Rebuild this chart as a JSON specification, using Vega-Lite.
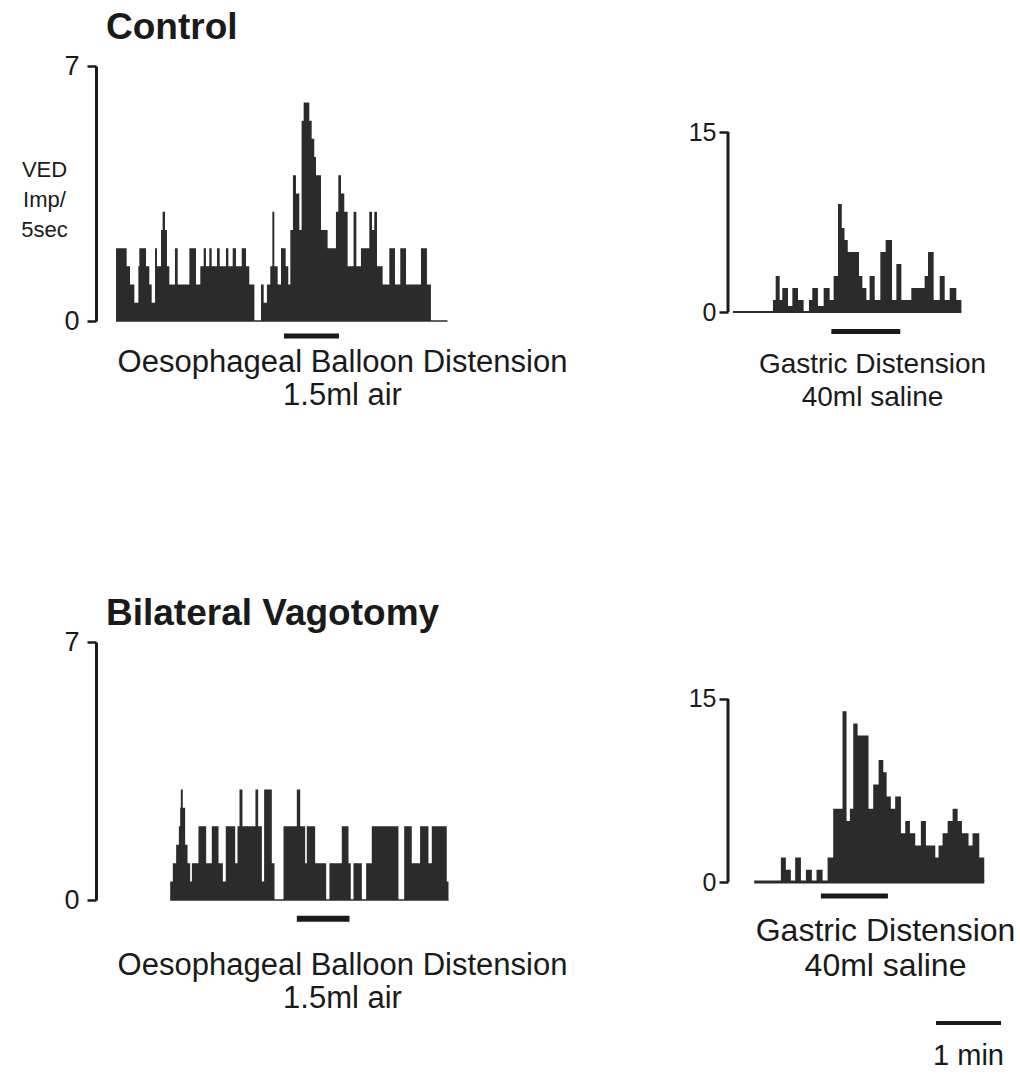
{
  "$schema": "https://vega.github.io/schema/vega-lite/v6.json",
  "padding": {"left": 20, "top": 9, "right": 0, "bottom": 0},
  "config": {
    "font": "Liberation Sans",
    "view": {"stroke": null},
    "axis": {"grid": false, "labelFont": "Liberation Sans", "titleFont": "Liberation Sans", "labelColor": "#1a1a1a", "titleColor": "#1a1a1a", "domainColor": "#1a1a1a", "tickColor": "#1a1a1a"},
    "title": {"font": "Liberation Sans", "color": "#1a1a1a"}
  },
  "datasets": {
    "hist": [
      {"panel":"p1","t":18.5,"v":2},{"panel":"p1","t":28.3,"v":1.5},{"panel":"p1","t":31.4,"v":1},{"panel":"p1","t":35.4,"v":0.5},{"panel":"p1","t":39.1,"v":1.5},{"panel":"p1","t":40.0,"v":2},{"panel":"p1","t":46.2,"v":1.5},{"panel":"p1","t":49.2,"v":1},{"panel":"p1","t":51.4,"v":0.5},{"panel":"p1","t":54.5,"v":2},{"panel":"p1","t":56.3,"v":1.5},{"panel":"p1","t":60.0,"v":2.5},{"panel":"p1","t":61.5,"v":3},{"panel":"p1","t":63.7,"v":2.5},{"panel":"p1","t":65.5,"v":1.5},{"panel":"p1","t":67.7,"v":1},{"panel":"p1","t":72.9,"v":2},{"panel":"p1","t":75.4,"v":1},{"panel":"p1","t":86.2,"v":2},{"panel":"p1","t":92.3,"v":1},{"panel":"p1","t":96.3,"v":1.5},{"panel":"p1","t":99.4,"v":2},{"panel":"p1","t":101.5,"v":1.5},{"panel":"p1","t":104.6,"v":2},{"panel":"p1","t":106.8,"v":1.5},{"panel":"p1","t":111.7,"v":2},{"panel":"p1","t":114.2,"v":1.5},{"panel":"p1","t":120.0,"v":2},{"panel":"p1","t":122.2,"v":1.5},{"panel":"p1","t":126.2,"v":2},{"panel":"p1","t":129.2,"v":1.5},{"panel":"p1","t":134.5,"v":2},{"panel":"p1","t":138.5,"v":1.5},{"panel":"p1","t":141.5,"v":1},{"panel":"p1","t":146.2,"v":0},{"panel":"p1","t":152.3,"v":1},{"panel":"p1","t":154.8,"v":0.5},{"panel":"p1","t":157.8,"v":1},{"panel":"p1","t":160.9,"v":1.5},{"panel":"p1","t":162.8,"v":3},{"panel":"p1","t":164.6,"v":1.5},{"panel":"p1","t":167.7,"v":1},{"panel":"p1","t":170.8,"v":2},{"panel":"p1","t":175.1,"v":1.5},{"panel":"p1","t":177.5,"v":1},{"panel":"p1","t":179.4,"v":2.5},{"panel":"p1","t":181.8,"v":4},{"panel":"p1","t":184.6,"v":3.5},{"panel":"p1","t":187.7,"v":2.5},{"panel":"p1","t":189.8,"v":5.5},{"panel":"p1","t":191.7,"v":6},{"panel":"p1","t":196.9,"v":5.5},{"panel":"p1","t":199.1,"v":5},{"panel":"p1","t":201.5,"v":4.5},{"panel":"p1","t":203.1,"v":4},{"panel":"p1","t":207.7,"v":2.5},{"panel":"p1","t":213.8,"v":2},{"panel":"p1","t":221.5,"v":3},{"panel":"p1","t":223.7,"v":4},{"panel":"p1","t":226.2,"v":3.5},{"panel":"p1","t":229.2,"v":3},{"panel":"p1","t":232.3,"v":1.5},{"panel":"p1","t":237.8,"v":3},{"panel":"p1","t":240.3,"v":1.5},{"panel":"p1","t":244.6,"v":2},{"panel":"p1","t":252.3,"v":3},{"panel":"p1","t":254.8,"v":2.5},{"panel":"p1","t":256.9,"v":3},{"panel":"p1","t":259.4,"v":1.5},{"panel":"p1","t":264.6,"v":1},{"panel":"p1","t":270.8,"v":2},{"panel":"p1","t":276.0,"v":1},{"panel":"p1","t":280.9,"v":2},{"panel":"p1","t":286.2,"v":1},{"panel":"p1","t":300.0,"v":2},{"panel":"p1","t":305.5,"v":1},{"panel":"p1","t":309.2,"v":0},
      {"panel":"p2","t":4.6,"v":0},{"panel":"p2","t":41.5,"v":1},{"panel":"p2","t":44.0,"v":3},{"panel":"p2","t":47.7,"v":1},{"panel":"p2","t":50.1,"v":2},{"panel":"p2","t":55.4,"v":0.5},{"panel":"p2","t":59.4,"v":2},{"panel":"p2","t":64.6,"v":1},{"panel":"p2","t":69.8,"v":0},{"panel":"p2","t":74.7,"v":1},{"panel":"p2","t":77.8,"v":2},{"panel":"p2","t":83.0,"v":0.5},{"panel":"p2","t":88.3,"v":2},{"panel":"p2","t":93.8,"v":1},{"panel":"p2","t":97.5,"v":3},{"panel":"p2","t":101.5,"v":9},{"panel":"p2","t":105.0,"v":7},{"panel":"p2","t":107.5,"v":6},{"panel":"p2","t":110.5,"v":5},{"panel":"p2","t":120.9,"v":3},{"panel":"p2","t":124.0,"v":2},{"panel":"p2","t":127.7,"v":1},{"panel":"p2","t":130.7,"v":3},{"panel":"p2","t":135.4,"v":1},{"panel":"p2","t":140.6,"v":5},{"panel":"p2","t":145.5,"v":6},{"panel":"p2","t":151.4,"v":1},{"panel":"p2","t":155.4,"v":4},{"panel":"p2","t":160.0,"v":1},{"panel":"p2","t":169.2,"v":2},{"panel":"p2","t":181.5,"v":3},{"panel":"p2","t":184.6,"v":5},{"panel":"p2","t":189.8,"v":1},{"panel":"p2","t":195.4,"v":3},{"panel":"p2","t":200.0,"v":1},{"panel":"p2","t":204.6,"v":2},{"panel":"p2","t":210.7,"v":1},{"panel":"p2","t":215.4,"v":0},
      {"panel":"p3","t":68.5,"v":0.5},{"panel":"p3","t":70.9,"v":1},{"panel":"p3","t":74.0,"v":1.5},{"panel":"p3","t":76.5,"v":2},{"panel":"p3","t":77.7,"v":2.5},{"panel":"p3","t":78.3,"v":3},{"panel":"p3","t":80.1,"v":2.5},{"panel":"p3","t":82.3,"v":1.5},{"panel":"p3","t":84.5,"v":1},{"panel":"p3","t":86.9,"v":0.5},{"panel":"p3","t":88.5,"v":1},{"panel":"p3","t":94.6,"v":2},{"panel":"p3","t":101.7,"v":1},{"panel":"p3","t":106.9,"v":2},{"panel":"p3","t":113.1,"v":1},{"panel":"p3","t":117.1,"v":0.5},{"panel":"p3","t":119.8,"v":2},{"panel":"p3","t":128.5,"v":1},{"panel":"p3","t":130.6,"v":2},{"panel":"p3","t":132.5,"v":3},{"panel":"p3","t":135.2,"v":2},{"panel":"p3","t":147.2,"v":3},{"panel":"p3","t":149.7,"v":2},{"panel":"p3","t":153.1,"v":0.5},{"panel":"p3","t":155.2,"v":3},{"panel":"p3","t":162.3,"v":1},{"panel":"p3","t":164.8,"v":0},{"panel":"p3","t":173.1,"v":2},{"panel":"p3","t":185.4,"v":3},{"panel":"p3","t":188.5,"v":2},{"panel":"p3","t":193.1,"v":1},{"panel":"p3","t":194.6,"v":2},{"panel":"p3","t":202.3,"v":1},{"panel":"p3","t":212.5,"v":0},{"panel":"p3","t":215.5,"v":1},{"panel":"p3","t":226.9,"v":2},{"panel":"p3","t":233.1,"v":1},{"panel":"p3","t":235.2,"v":0},{"panel":"p3","t":237.7,"v":1},{"panel":"p3","t":245.4,"v":0},{"panel":"p3","t":249.4,"v":1},{"panel":"p3","t":254.6,"v":2},{"panel":"p3","t":279.2,"v":0},{"panel":"p3","t":284.5,"v":2},{"panel":"p3","t":291.5,"v":1},{"panel":"p3","t":299.2,"v":2},{"panel":"p3","t":306.9,"v":1},{"panel":"p3","t":310.0,"v":2},{"panel":"p3","t":323.8,"v":0.5},{"panel":"p3","t":325.4,"v":0},
      {"panel":"p4","t":24.2,"v":0},{"panel":"p4","t":48.8,"v":2},{"panel":"p4","t":53.4,"v":1},{"panel":"p4","t":58.0,"v":0},{"panel":"p4","t":62.0,"v":2},{"panel":"p4","t":67.3,"v":0},{"panel":"p4","t":71.9,"v":1},{"panel":"p4","t":77.4,"v":0},{"panel":"p4","t":81.7,"v":1},{"panel":"p4","t":87.3,"v":0},{"panel":"p4","t":91.9,"v":2},{"panel":"p4","t":97.1,"v":6},{"panel":"p4","t":105.7,"v":14},{"panel":"p4","t":109.4,"v":5},{"panel":"p4","t":112.5,"v":6},{"panel":"p4","t":115.6,"v":13},{"panel":"p4","t":119.6,"v":12},{"panel":"p4","t":129.7,"v":6},{"panel":"p4","t":134.0,"v":8},{"panel":"p4","t":139.0,"v":10},{"panel":"p4","t":143.3,"v":9},{"panel":"p4","t":146.4,"v":7},{"panel":"p4","t":150.3,"v":6},{"panel":"p4","t":154.3,"v":7},{"panel":"p4","t":159.6,"v":4},{"panel":"p4","t":163.6,"v":5},{"panel":"p4","t":167.9,"v":4},{"panel":"p4","t":172.8,"v":3},{"panel":"p4","t":178.0,"v":5},{"panel":"p4","t":182.7,"v":3},{"panel":"p4","t":191.3,"v":2},{"panel":"p4","t":194.3,"v":3},{"panel":"p4","t":198.0,"v":4},{"panel":"p4","t":202.7,"v":5},{"panel":"p4","t":207.3,"v":6},{"panel":"p4","t":211.9,"v":5},{"panel":"p4","t":215.9,"v":4},{"panel":"p4","t":222.0,"v":3},{"panel":"p4","t":225.7,"v":4},{"panel":"p4","t":231.9,"v":2},{"panel":"p4","t":236.5,"v":0}
    ],
    "spans": [
      {"panel":"p1","start":18.5,"end":324.5},
      {"panel":"p2","start":4.6,"end":215.4},
      {"panel":"p3","start":68.5,"end":325.4},
      {"panel":"p4","start":24.2,"end":236.5}
    ],
    "stim": [
      {"panel":"p1","start":173.5,"end":224.3},
      {"panel":"p2","start":95.4,"end":159.0},
      {"panel":"p3","start":185.4,"end":234.0},
      {"panel":"p4","start":85.7,"end":147.6}
    ],
    "scalebar": [
      {"start":192,"end":252,"label":"1 min"}
    ]
  },
  "spacing": 184,
  "vconcat": [
    {
      "spacing": 100,
      "hconcat": [
        {
          "width": 492, "height": 255,
          "title": {"text": "Control", "anchor": "start", "frame": "group", "dx": 10, "fontSize": 37, "fontWeight": "bold", "offset": -24, "baseline": "alphabetic"},
          "layer": [
            {
              "data": {"name": "hist"}, "transform": [{"filter": "datum.panel === 'p1'"}],
              "mark": {"type": "area", "interpolate": "step-after", "color": "#2b2b2b"},
              "encoding": {
                "x": {"field": "t", "type": "quantitative", "scale": {"domain": [0, 454.2], "nice": false, "zero": false},
                      "axis": {"domain": false, "ticks": false, "labels": false, "title": ["Oesophageal Balloon Distension", "1.5ml air"], "titleFontSize": 31, "titleFontWeight": "normal", "titleLineHeight": 33, "titlePadding": 26}},
                "y": {"field": "v", "type": "quantitative", "scale": {"domain": [0, 7], "nice": false},
                      "axis": {"values": [0, 7], "tickSize": 9, "tickWidth": 2.5, "domainWidth": 3, "labelFontSize": 27, "labelPadding": 8, "title": ["VED", "Imp/", "5sec"], "titleAngle": 0, "titleFontSize": 22, "titleFontWeight": "normal", "titleLineHeight": 30, "titleX": -52, "titleY": 103, "titleAlign": "center", "titleBaseline": "middle"}}
              }
            },
            {
              "data": {"name": "spans"}, "transform": [{"filter": "datum.panel === 'p1'"}],
              "mark": {"type": "rule", "color": "#2b2b2b", "strokeWidth": 1.5},
              "encoding": {"x": {"field": "start", "type": "quantitative"}, "x2": {"field": "end"}, "y": {"datum": 0}}
            },
            {
              "data": {"name": "stim"}, "transform": [{"filter": "datum.panel === 'p1'"}],
              "mark": {"type": "rule", "color": "#1a1a1a", "strokeWidth": 5},
              "encoding": {"x": {"field": "start", "type": "quantitative"}, "x2": {"field": "end"}, "y": {"datum": -0.41}}
            }
          ]
        },
        {
          "width": 288, "height": 246,
          "layer": [
            {
              "data": {"name": "hist"}, "transform": [{"filter": "datum.panel === 'p2'"}],
              "mark": {"type": "area", "interpolate": "step-after", "color": "#2b2b2b"},
              "encoding": {
                "x": {"field": "t", "type": "quantitative", "scale": {"domain": [0, 265.8], "nice": false, "zero": false},
                      "axis": {"domain": false, "ticks": false, "labels": false, "title": ["Gastric Distension", "40ml saline"], "titleFontSize": 28, "titleFontWeight": "normal", "titleLineHeight": 33, "titlePadding": 38}},
                "y": {"field": "v", "type": "quantitative", "scale": {"domain": [0, 20.5], "nice": false},
                      "axis": {"values": [0, 15], "domain": false, "tickSize": 9, "tickWidth": 2.5, "labelFontSize": 25, "labelPadding": 3, "title": null}}
              }
            },
            {
              "data": {"values": [{}]},
              "mark": {"type": "rule", "color": "#1a1a1a", "strokeWidth": 3},
              "encoding": {"x": {"datum": 0}, "y": {"datum": 0}, "y2": {"datum": 15}}
            },
            {
              "data": {"name": "spans"}, "transform": [{"filter": "datum.panel === 'p2'"}],
              "mark": {"type": "rule", "color": "#2b2b2b", "strokeWidth": 2},
              "encoding": {"x": {"field": "start", "type": "quantitative"}, "x2": {"field": "end"}, "y": {"datum": 0}}
            },
            {
              "data": {"name": "stim"}, "transform": [{"filter": "datum.panel === 'p2'"}],
              "mark": {"type": "rule", "color": "#1a1a1a", "strokeWidth": 5},
              "encoding": {"x": {"field": "start", "type": "quantitative"}, "x2": {"field": "end"}, "y": {"datum": -1.62}}
            }
          ]
        }
      ]
    },
    {
      "spacing": 100,
      "hconcat": [
        {
          "width": 492, "height": 258,
          "title": {"text": "Bilateral Vagotomy", "anchor": "start", "frame": "group", "dx": 10, "fontSize": 37, "fontWeight": "bold", "offset": -34, "baseline": "alphabetic"},
          "layer": [
            {
              "data": {"name": "hist"}, "transform": [{"filter": "datum.panel === 'p3'"}],
              "mark": {"type": "area", "interpolate": "step-after", "color": "#2b2b2b"},
              "encoding": {
                "x": {"field": "t", "type": "quantitative", "scale": {"domain": [0, 454.2], "nice": false, "zero": false},
                      "axis": {"domain": false, "ticks": false, "labels": false, "title": ["Oesophageal Balloon Distension", "1.5ml air"], "titleFontSize": 31, "titleFontWeight": "normal", "titleLineHeight": 33, "titlePadding": 50}},
                "y": {"field": "v", "type": "quantitative", "scale": {"domain": [0, 7], "nice": false},
                      "axis": {"values": [0, 7], "tickSize": 9, "tickWidth": 2.5, "domainWidth": 3, "labelFontSize": 27, "labelPadding": 8, "title": null}}
              }
            },
            {
              "data": {"name": "spans"}, "transform": [{"filter": "datum.panel === 'p3'"}],
              "mark": {"type": "rule", "color": "#2b2b2b", "strokeWidth": 1.5},
              "encoding": {"x": {"field": "start", "type": "quantitative"}, "x2": {"field": "end"}, "y": {"datum": 0}}
            },
            {
              "data": {"name": "stim"}, "transform": [{"filter": "datum.panel === 'p3'"}],
              "mark": {"type": "rule", "color": "#1a1a1a", "strokeWidth": 6},
              "encoding": {"x": {"field": "start", "type": "quantitative"}, "x2": {"field": "end"}, "y": {"datum": -0.51}}
            }
          ]
        },
        {
          "width": 288, "height": 240,
          "layer": [
            {
              "data": {"name": "hist"}, "transform": [{"filter": "datum.panel === 'p4'"}],
              "mark": {"type": "area", "interpolate": "step-after", "color": "#2b2b2b"},
              "encoding": {
                "x": {"field": "t", "type": "quantitative", "scale": {"domain": [0, 265.8], "nice": false, "zero": false},
                      "axis": {"domain": false, "ticks": false, "labels": false, "title": ["Gastric Distension", "40ml saline"], "titleFontSize": 32, "titleFontWeight": "normal", "titleLineHeight": 35, "titlePadding": 33, "titleX": 157}},
                "y": {"field": "v", "type": "quantitative", "scale": {"domain": [0, 19.67], "nice": false},
                      "axis": {"values": [0, 15], "domain": false, "tickSize": 9, "tickWidth": 2.5, "labelFontSize": 25, "labelPadding": 3, "title": null}}
              }
            },
            {
              "data": {"values": [{}]},
              "mark": {"type": "rule", "color": "#1a1a1a", "strokeWidth": 3},
              "encoding": {"x": {"datum": 0}, "y": {"datum": 0}, "y2": {"datum": 15}}
            },
            {
              "data": {"name": "spans"}, "transform": [{"filter": "datum.panel === 'p4'"}],
              "mark": {"type": "rule", "color": "#2b2b2b", "strokeWidth": 3},
              "encoding": {"x": {"field": "start", "type": "quantitative"}, "x2": {"field": "end"}, "y": {"datum": 0}}
            },
            {
              "data": {"name": "stim"}, "transform": [{"filter": "datum.panel === 'p4'"}],
              "mark": {"type": "rule", "color": "#1a1a1a", "strokeWidth": 5},
              "encoding": {"x": {"field": "start", "type": "quantitative"}, "x2": {"field": "end"}, "y": {"datum": -1.15}}
            },
            {
              "data": {"name": "scalebar"},
              "mark": {"type": "rule", "color": "#1a1a1a", "strokeWidth": 4},
              "encoding": {"x": {"field": "start", "type": "quantitative"}, "x2": {"field": "end"}, "y": {"datum": -11.56}}
            },
            {
              "data": {"name": "scalebar"},
              "mark": {"type": "text", "fontSize": 29, "color": "#1a1a1a", "align": "center", "baseline": "middle"},
              "encoding": {"x": {"datum": 222}, "y": {"datum": -14.26}, "text": {"field": "label"}}
            }
          ]
        }
      ]
    }
  ]
}
